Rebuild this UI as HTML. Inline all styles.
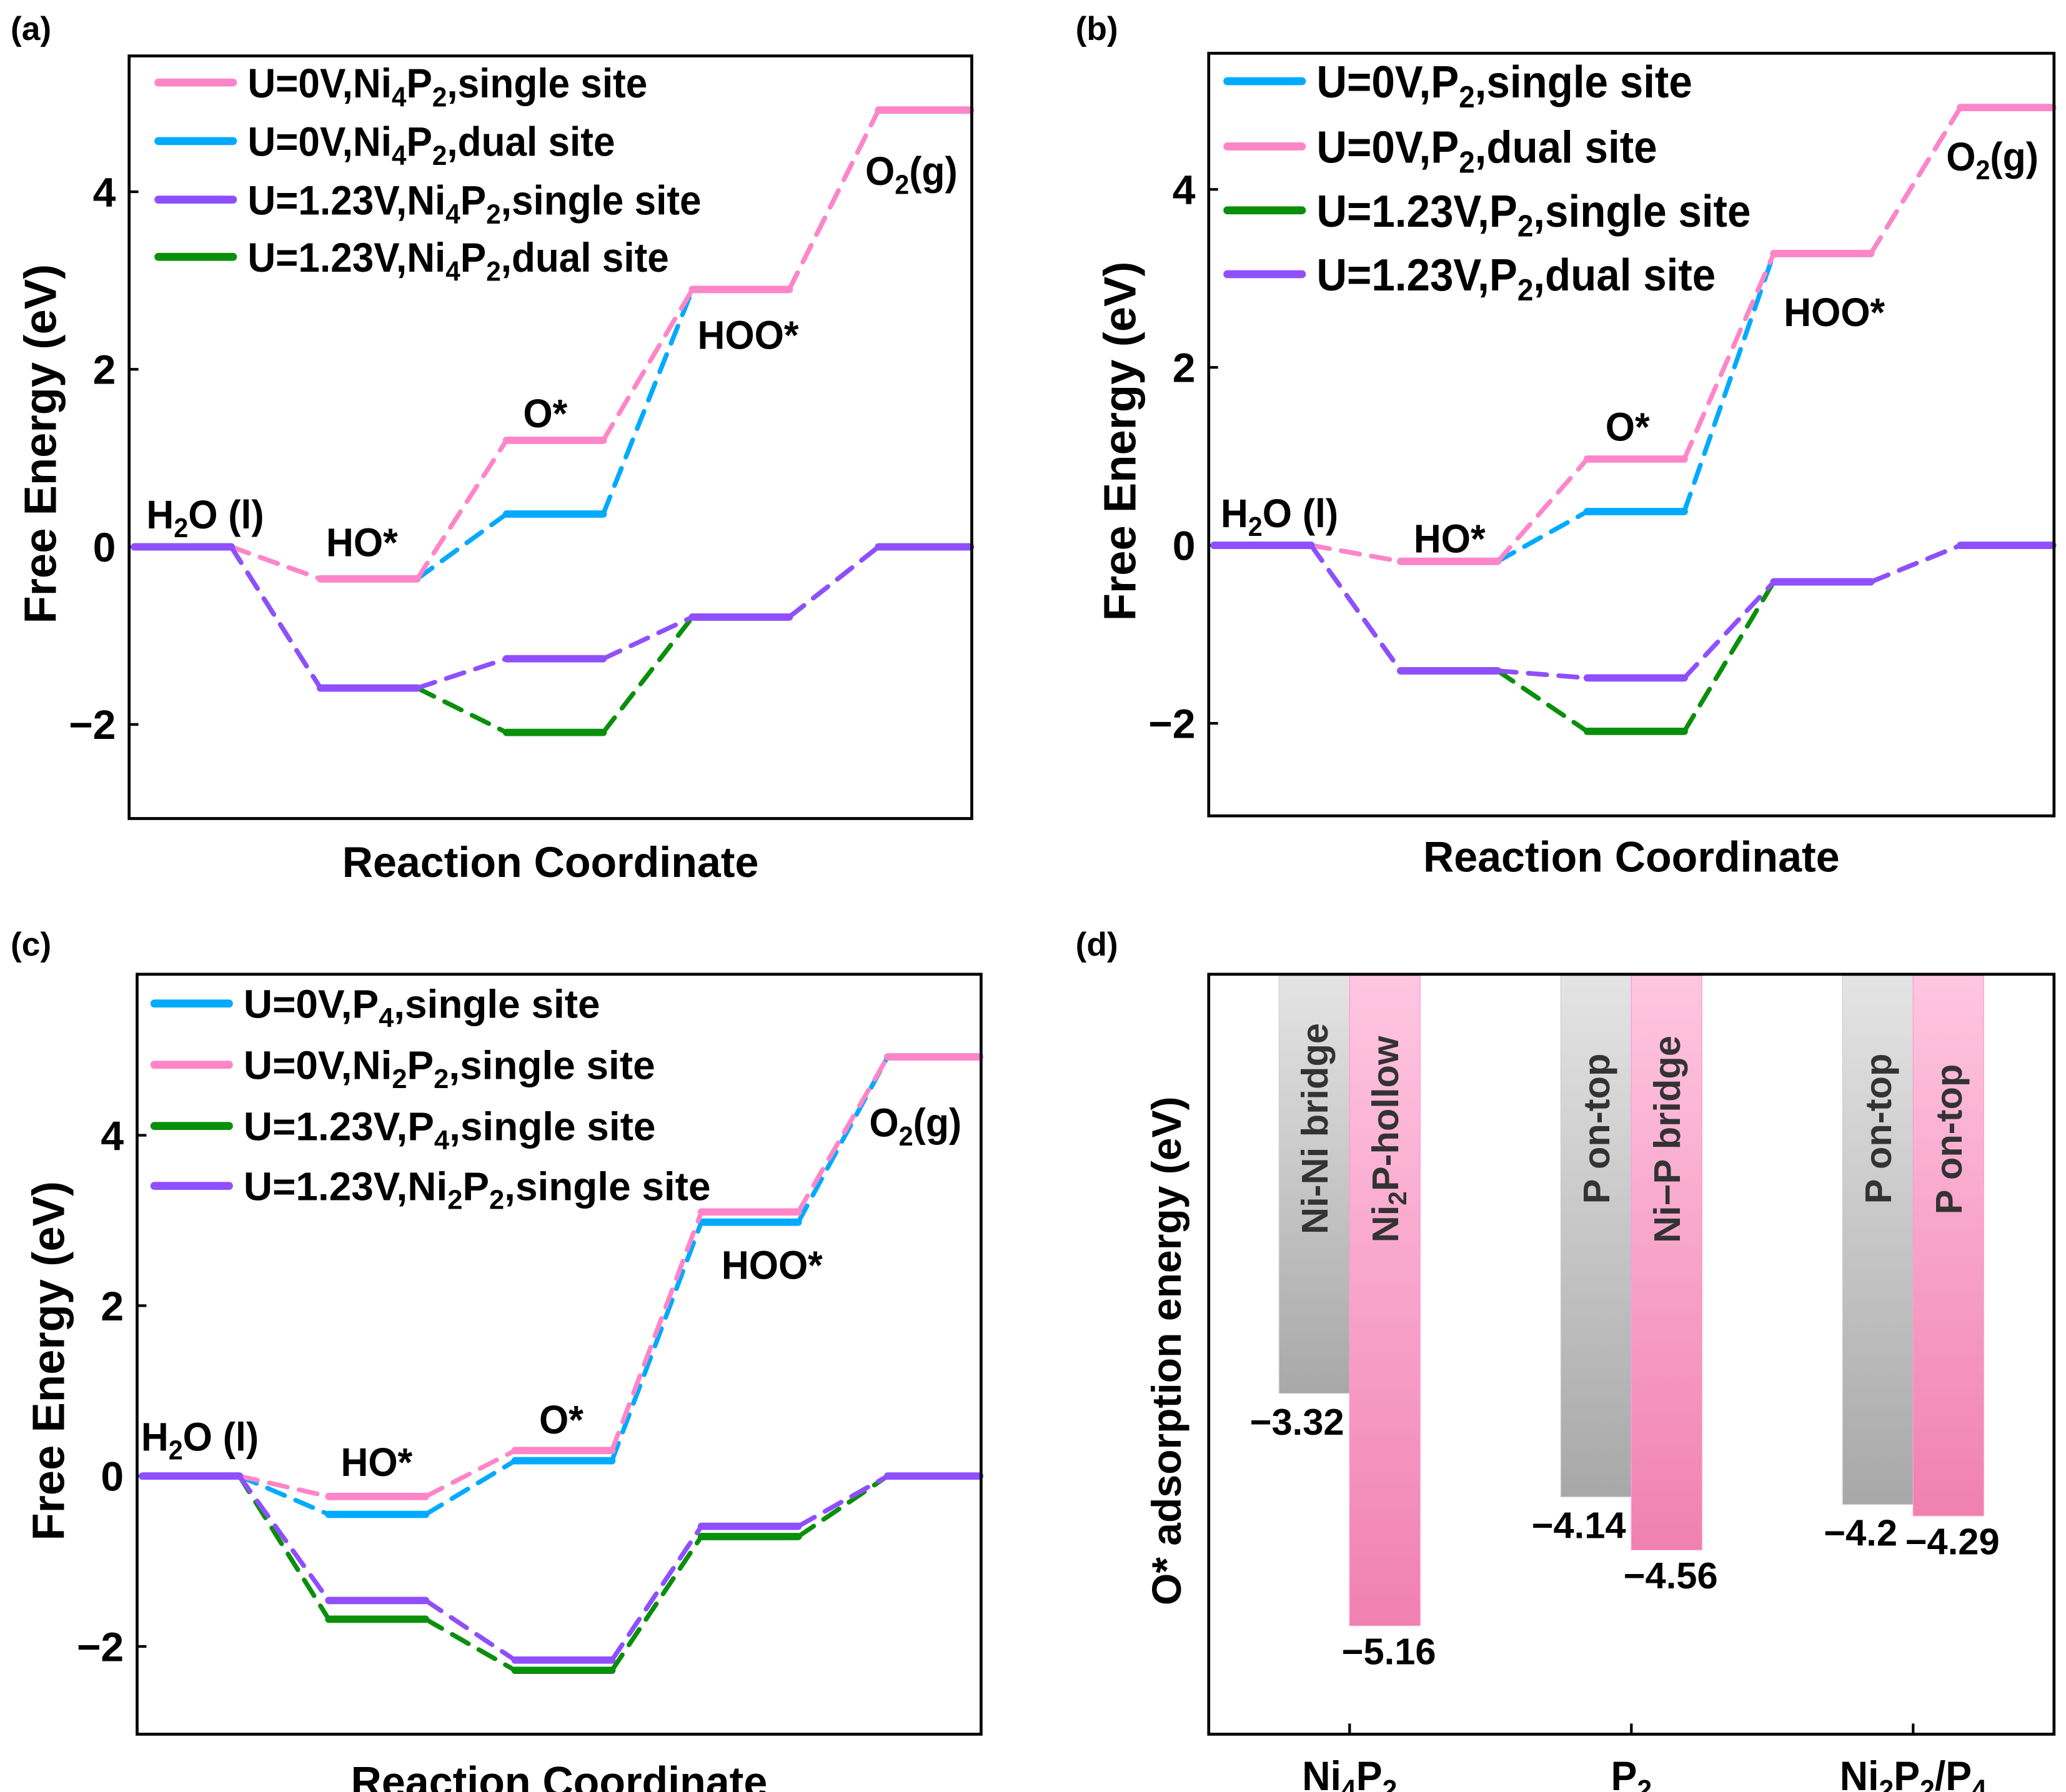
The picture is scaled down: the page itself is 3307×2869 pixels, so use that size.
<!DOCTYPE html>
<html><head><meta charset="utf-8">
<style>
html,body{margin:0;padding:0;background:#fff;}
svg{display:block;}
text{font-family:"Liberation Sans",sans-serif;font-weight:bold;fill:#000;}
</style></head>
<body>
<svg id="fig" xmlns="http://www.w3.org/2000/svg" width="3307" height="2869" viewBox="0 0 1552 1346.4">
</svg>
<script>
// ---------- data ----------
const stepLabels = ["H2O (l)","HO*","O*","HOO*","O2(g)"];
// panel a
const aNames = ["U=0V,Ni4P2,single site","U=0V,Ni4P2,dual site","U=1.23V,Ni4P2,single site","U=1.23V,Ni4P2,dual site"];
const aPinkSingle0 = [0,-0.36,1.20,2.90,4.92];
const aBlueDual0 = [0,-0.36,0.37,2.90,4.92];
const aPurpleSingle123 = [0,-1.59,-1.26,-0.79,0];
const aGreenDual123 = [0,-1.59,-2.09,-0.79,0];
// panel b
const bBlueSingle0 = [0,-0.18,0.38,3.28,4.92];
const bPinkDual0 = [0,-0.18,0.97,3.28,4.92];
const bGreenSingle123 = [0,-1.41,-2.09,-0.41,0];
const bPurpleDual123 = [0,-1.41,-1.49,-0.41,0];
// panel c
const cBlueP4 = [0,-0.45,0.18,2.98,4.92];
const cPinkNi2P2 = [0,-0.24,0.30,3.10,4.92];
const cGreenP4 = [0,-1.68,-2.28,-0.71,0];
const cPurpleNi2P2 = [0,-1.46,-2.16,-0.59,0];
const yTicks = [-2,0,2,4];
// panel d
const dGroups = ["Ni4P2","P2","Ni2P2/P4"];
const dGray = [-3.32,-4.14,-4.2];
const dPink = [-5.16,-4.56,-4.29];
const dGrayLabels = ["Ni-Ni bridge","P on-top","P on-top"];
const dPinkLabels = ["Ni2P-hollow","Ni\u2212P bridge","P on-top"];

const C = {pink:"#ff85c8",blue:"#00aaff",purple:"#8f4fff",green:"#0a8f0a"};
const NS="http://www.w3.org/2000/svg";
const svg=document.getElementById("fig");
function mk(tag,attrs,parent){const e=document.createElementNS(NS,tag);for(const k in attrs)e.setAttribute(k,attrs[k]);(parent||svg).appendChild(e);return e;}
function rich(parent,x,y,parts,size,sx,anchor){
  const t=mk("text",{x:0,y:0,"font-size":size,"text-anchor":anchor||"start",transform:`translate(${x},${y}) scale(${sx||1},1)`},parent);
  parts.forEach(p=>{
    const s=mk("tspan",{},t);
    if(p[1]){s.setAttribute("font-size",size*0.68);s.setAttribute("dy",size*0.22);}
    else if(p[2]){s.setAttribute("dy",-size*0.22);}
    s.textContent=p[0];
  });
  return t;
}
function chem(str){
  const out=[];let prevSub=false;
  for(let k=0;k<str.length;k++){
    const ch=str[k];
    const isSub=/\d/.test(ch)&&k>0&&/[A-Za-z]/.test(str[k-1])&&!/^U=|\./.test(str.slice(k-2,k));
    out.push([ch,isSub,prevSub&&!isSub]);prevSub=isSub;
  }
  const m=[];out.forEach(p=>{const l=m[m.length-1];if(l&&l[1]===p[1]&&!p[2])l[0]+=p[0];else m.push([p[0],p[1],p[2]]);});
  return m;
}

function energyPanel(id,box,yr,series,legend,labelPos,legY,legX,legFont,legSx,letterPos,xTitleY){
  const g=mk("g",{});
  
  
  const [x0,y0,x1,y1]=box;
  const sy=v=>y0+(yr[1]-v)/(yr[1]-yr[0])*(y1-y0);
  const stepW=(x1-x0)/4.53;
  const lx=i=>x0+4+i*stepW;
  const lw=stepW*0.52;
  yTicks.forEach(t=>{
    const tk=mk("line",{x1:x0,x2:x0+7,y1:sy(t),y2:sy(t),stroke:"#000","stroke-width":2},g);
    
    
    const tl=mk("text",{x:x0-10,y:sy(t)+11,"font-size":31,"text-anchor":"end"},g);
    
    
    tl.textContent=t<0?"\u2212"+(-t):String(t);
  });
  series.forEach(s=>{
    const sg=mk("g",{},g);
    
    
    s.vals.forEach((v,i)=>{
      const a=lx(i), b=(i===4)?x1-1:a+lw;
      const ln=mk("line",{x1:a,x2:b,y1:sy(v),y2:sy(v),stroke:C[s.c],"stroke-width":5.5,"stroke-linecap":"round"},sg);
      
      
      if(i<4){
        const n=s.vals[i+1];
        const cn=mk("line",{x1:b,x2:lx(i+1),y1:sy(v),y2:sy(n),stroke:C[s.c],"stroke-width":3.5,"stroke-dasharray":"14,9","stroke-linecap":"round"},sg);
        
        
      }
    });
  });
  const fr=mk("rect",{x:x0,y:y0,width:x1-x0,height:y1-y0,fill:"none",stroke:"#000","stroke-width":2.2},g);
  
  
  legend.forEach((l,i)=>{
    const y=legY[i];
    const ln=mk("line",{x1:legX,x2:legX+56,y1:y,y2:y,stroke:C[l.c],"stroke-width":6,"stroke-linecap":"round"},g);
    
    
    const t=rich(g,legX+67,y+legFont*0.36,chem(l.name),legFont,legSx);
    
    
  });
  labelPos.forEach((p,i)=>{
    let parts;
    if(i===0)parts=[["H"],["2",1],["O (l)",0,1]];
    else if(i===4)parts=[["O"],["2",1],["(g)",0,1]];
    else parts=[[stepLabels[i]]];
    const t=rich(g,p[0],p[1],parts,30,0.95);
    
    
  });
  const yt=mk("text",{x:0,y:0,"font-size":34,"text-anchor":"middle",transform:`translate(${x0-55},${(y0+y1)/2+5}) rotate(-90)`},g);
  
  
  yt.textContent="Free Energy (eV)";
  const xt=mk("text",{x:(x0+x1)/2,y:xTitleY,"font-size":32,"text-anchor":"middle"},g);
  
  
  xt.textContent="Reaction Coordinate";
  const pl=mk("text",{x:letterPos[0],y:letterPos[1],"font-size":25},g);
  
  
  pl.textContent="("+id+")";
}

energyPanel("a",[97,42,730,615],[-3.06,5.53],
  [{name:"blue",c:"blue",vals:aBlueDual0},{name:"pink",c:"pink",vals:aPinkSingle0},{name:"green",c:"green",vals:aGreenDual123},{name:"purple",c:"purple",vals:aPurpleSingle123}],
  [{name:aNames[0],c:"pink"},{name:aNames[1],c:"blue"},{name:aNames[2],c:"purple"},{name:aNames[3],c:"green"}],
  [[110,397],[245,418],[393,321],[524,262],[650,139]],[62,106,150,193],119,31,0.94,[8,30],659);

energyPanel("b",[908,40,1543,613],[-3.04,5.53],
  [{name:"blue",c:"blue",vals:bBlueSingle0},{name:"pink",c:"pink",vals:bPinkDual0},{name:"green",c:"green",vals:bGreenSingle123},{name:"purple",c:"purple",vals:bPurpleDual123}],
  [{name:"U=0V,P2,single site",c:"blue"},{name:"U=0V,P2,dual site",c:"pink"},{name:"U=1.23V,P2,single site",c:"green"},{name:"U=1.23V,P2,dual site",c:"purple"}],
  [[917,396],[1062,415],[1206,331],[1340,245],[1462,128]],[61,110,158,206],922,34,0.93,[808,30],655);

energyPanel("c",[103,732,737,1303],[-3.03,5.89],
  [{name:"blue",c:"blue",vals:cBlueP4},{name:"pink",c:"pink",vals:cPinkNi2P2},{name:"green",c:"green",vals:cGreenP4},{name:"purple",c:"purple",vals:cPurpleNi2P2}],
  [{name:"U=0V,P4,single site",c:"blue"},{name:"U=0V,Ni2P2,single site",c:"pink"},{name:"U=1.23V,P4,single site",c:"green"},{name:"U=1.23V,Ni2P2,single site",c:"purple"}],
  [[106,1090],[256,1109],[405,1077],[542,961],[653,854]],[754,800,846,891],116,30,1.0,[8,718],1350);

// ---------- panel d ----------
(function(){
  const g=mk("g",{});
  
  
  const x0=908,y0=732,x1=1543,y1=1303;
  const dmin=-6.02;
  const sy=v=>y0+(v/dmin)*(y1-y0);
  const defs=mk("defs",{},g);
  const gg=mk("linearGradient",{id:"gGray",x1:0,y1:0,x2:0,y2:1},defs);
  mk("stop",{offset:"0","stop-color":"#e4e4e4"},gg);mk("stop",{offset:"1","stop-color":"#a8a8a8"},gg);
  const gp=mk("linearGradient",{id:"gPink",x1:0,y1:0,x2:0,y2:1},defs);
  mk("stop",{offset:"0","stop-color":"#ffc6e2"},gp);mk("stop",{offset:"1","stop-color":"#f080b0"},gp);
  const groupW=(x1-x0)/3;
  const cx=i=>x0+groupW*(i+0.5);
  const bw=53;
  dGroups.forEach((name,i)=>{
    const c=cx(i);
    const gb=mk("rect",{x:c-bw,y:y0+1,width:bw,height:sy(dGray[i])-y0-1,fill:"url(#gGray)",stroke:"#d0d0d0","stroke-width":0.6},g);
    
    
    const pb=mk("rect",{x:c,y:y0+1,width:bw,height:sy(dPink[i])-y0-1,fill:"url(#gPink)",stroke:"#ff9ccc","stroke-width":0.6},g);
    
    
    const gl=mk("text",{x:0,y:0,"font-size":28,"text-anchor":"middle",transform:`translate(${c-bw/2+10},848) rotate(-90)`},g);
    
    
    gl.style.fill="#333";
    gl.textContent=dGrayLabels[i];
    let pparts=dPinkLabels[i]==="Ni2P-hollow"?[["Ni"],["2",1],["P-hollow",0,1]]:[[dPinkLabels[i]]];
    const plt=rich(g,0,0,pparts,28,1,"middle");
    plt.setAttribute("transform",`translate(${c+bw/2+10},856) rotate(-90)`);
    plt.style.fill="#333";
    
    
    const gv=mk("text",{x:c-bw/2-13,y:sy(dGray[i])+31,"font-size":28,"text-anchor":"middle"},g);
    
    
    gv.textContent="\u2212"+(-dGray[i]);
    const pv=mk("text",{x:c+bw/2+3,y:sy(dPink[i])+29,"font-size":28,"text-anchor":"middle"},g);
    
    
    pv.textContent="\u2212"+(-dPink[i]);
    const tk=mk("line",{x1:c,x2:c,y1:y1,y2:y1-8,stroke:"#000","stroke-width":2},g);
    
    
    const xl=rich(g,c,y1+42,chem(name),31,0.95,"middle");
    
    
  });
  const fr=mk("rect",{x:x0,y:y0,width:x1-x0,height:y1-y0,fill:"none",stroke:"#000","stroke-width":2.2},g);
  
  
  const yt=mk("text",{x:0,y:0,"font-size":31,"text-anchor":"middle",transform:`translate(887,1015) rotate(-90)`},g);
  
  
  yt.textContent="O* adsorption energy (eV)";
  const pl=mk("text",{x:808,y:718,"font-size":25},g);
  
  
  pl.textContent="(d)";
})();
</script>
</body></html>
